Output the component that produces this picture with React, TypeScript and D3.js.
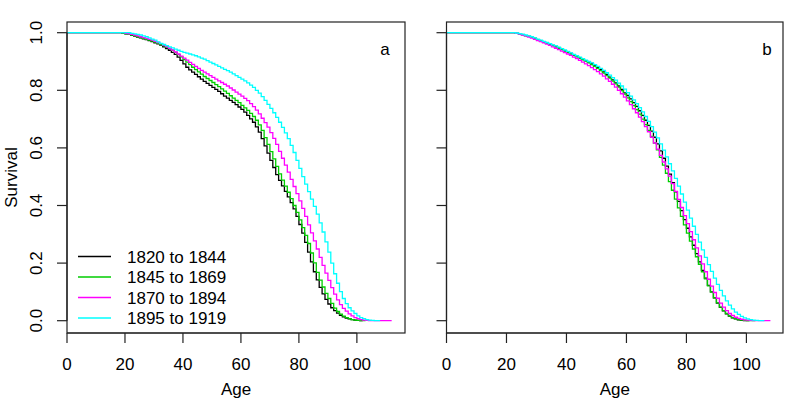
import React from "react";
import * as d3 from "d3";

// ---------- data ----------
const cohorts = ["1820 to 1844", "1845 to 1869", "1870 to 1894", "1895 to 1919"];
const xTicks = [0, 20, 40, 60, 80, 100];
const yTicks = [0, 0.2, 0.4, 0.6, 0.8, 1.0];
const panelLabels = ["a", "b"];

// Panel a: survival by single year of age, starting at startA[i]
const startA = [18, 18, 19, 21];
const lastAgeA = [102, 103, 112, 108];
const survA1820 = [
  1.0, 0.998, 0.996, 0.994, 0.991, 0.988, 0.985, 0.982, 0.979, 0.976, 0.973, 0.969, 0.965, 0.961, 0.957,
  0.951, 0.945, 0.939, 0.932, 0.925, 0.915, 0.904, 0.892, 0.88, 0.871, 0.863, 0.855, 0.847, 0.839, 0.831,
  0.824, 0.817, 0.81, 0.803, 0.796, 0.788, 0.78, 0.773, 0.765, 0.758, 0.75, 0.742, 0.734, 0.724, 0.713,
  0.701, 0.689, 0.673, 0.655, 0.632, 0.607, 0.582, 0.557, 0.532, 0.507, 0.487, 0.468, 0.449, 0.43, 0.41,
  0.388, 0.362, 0.334, 0.304, 0.272, 0.238, 0.204, 0.17, 0.142, 0.116, 0.093, 0.074, 0.058, 0.045, 0.035,
  0.026, 0.019, 0.013, 0.009, 0.006, 0.004, 0.002, 0.001, 0.0,
];
const survA1845 = [
  1.0, 0.998, 0.996, 0.994, 0.992, 0.989, 0.986, 0.983, 0.98, 0.977, 0.974, 0.971, 0.967, 0.963, 0.959,
  0.955, 0.95, 0.945, 0.939, 0.932, 0.924, 0.916, 0.907, 0.898, 0.889, 0.88, 0.872, 0.864, 0.856, 0.848,
  0.841, 0.834, 0.827, 0.82, 0.813, 0.805, 0.797, 0.789, 0.781, 0.773, 0.765, 0.757, 0.748, 0.739, 0.73,
  0.72, 0.709, 0.696, 0.68, 0.661, 0.636, 0.612, 0.587, 0.562, 0.536, 0.51, 0.488, 0.467, 0.446, 0.424,
  0.4, 0.376, 0.35, 0.323, 0.296, 0.268, 0.235, 0.201, 0.168, 0.141, 0.117, 0.095, 0.077, 0.06, 0.044,
  0.032, 0.023, 0.016, 0.011, 0.007, 0.004, 0.002, 0.001, 0.0,
];
const survA1870 = [
  1.0, 0.998, 0.996, 0.994, 0.992, 0.989, 0.986, 0.983, 0.98, 0.977, 0.974, 0.97, 0.966, 0.962, 0.957,
  0.952, 0.946, 0.94, 0.933, 0.926, 0.919, 0.912, 0.905, 0.897, 0.89, 0.883, 0.876, 0.869, 0.863, 0.857,
  0.851, 0.845, 0.839, 0.833, 0.827, 0.821, 0.815, 0.808, 0.801, 0.794, 0.787, 0.78, 0.772, 0.764, 0.754,
  0.743, 0.731, 0.718, 0.703, 0.688, 0.672, 0.653, 0.633, 0.612, 0.588, 0.564, 0.54, 0.516, 0.491, 0.466,
  0.441, 0.416, 0.39, 0.362, 0.333, 0.305, 0.277, 0.249, 0.22, 0.192, 0.165, 0.14, 0.115, 0.092, 0.072,
  0.056, 0.043, 0.033, 0.024, 0.017, 0.011, 0.007, 0.004, 0.002, 0.001, 0.0,
];
const survA1895 = [
  1.0, 0.998, 0.996, 0.994, 0.992, 0.989, 0.986, 0.982, 0.978, 0.974, 0.968, 0.963, 0.959, 0.955, 0.951,
  0.947, 0.943, 0.939, 0.935, 0.932, 0.929, 0.926, 0.923, 0.92, 0.916, 0.912, 0.908, 0.903, 0.898, 0.893,
  0.888, 0.883, 0.878, 0.873, 0.868, 0.863, 0.857, 0.851, 0.845, 0.839, 0.833, 0.826, 0.818, 0.81, 0.8,
  0.79, 0.778, 0.765, 0.751, 0.737, 0.722, 0.706, 0.689, 0.671, 0.652, 0.632, 0.609, 0.584, 0.557, 0.529,
  0.5, 0.474, 0.448, 0.422, 0.397, 0.37, 0.34, 0.308, 0.274, 0.238, 0.2, 0.163, 0.13, 0.101, 0.077,
  0.059, 0.045, 0.034, 0.025, 0.017, 0.011, 0.007, 0.004, 0.002, 0.001, 0.0,
];

// Panel b
const startB = [22, 22, 22, 22];
const lastAgeB = [101, 103, 108, 106];
const survB1820 = [
  1.0, 0.998, 0.996, 0.993, 0.99, 0.987, 0.984, 0.98, 0.976, 0.972, 0.968, 0.964, 0.96, 0.956, 0.952,
  0.948, 0.943, 0.938, 0.933, 0.928, 0.923, 0.918, 0.913, 0.908, 0.903, 0.898, 0.893, 0.887, 0.88, 0.872,
  0.864, 0.855, 0.846, 0.836, 0.826, 0.815, 0.803, 0.791, 0.782, 0.77, 0.757, 0.744, 0.729, 0.713, 0.696,
  0.678, 0.658, 0.637, 0.614, 0.59, 0.564, 0.537, 0.509, 0.479, 0.447, 0.414, 0.382, 0.351, 0.321, 0.291,
  0.262, 0.233, 0.204, 0.175, 0.148, 0.123, 0.1, 0.079, 0.061, 0.046, 0.034, 0.024, 0.016, 0.01, 0.006,
  0.003, 0.001, 0.0,
];
const survB1845 = [
  1.0, 0.998, 0.996, 0.993, 0.99, 0.987, 0.984, 0.98, 0.976, 0.972, 0.968, 0.964, 0.96, 0.955, 0.951,
  0.946, 0.941, 0.936, 0.931, 0.926, 0.921, 0.916, 0.911, 0.906, 0.901, 0.895, 0.889, 0.883, 0.876, 0.868,
  0.86, 0.851, 0.842, 0.832, 0.822, 0.811, 0.799, 0.787, 0.774, 0.761, 0.747, 0.733, 0.717, 0.7, 0.681,
  0.661, 0.64, 0.617, 0.593, 0.567, 0.54, 0.512, 0.483, 0.453, 0.422, 0.392, 0.362, 0.333, 0.304, 0.276,
  0.249, 0.222, 0.196, 0.17, 0.145, 0.121, 0.099, 0.079, 0.062, 0.047, 0.035, 0.025, 0.017, 0.011, 0.007,
  0.004, 0.002, 0.001, 0.0,
];
const survB1870 = [
  1.0, 0.998, 0.995, 0.992, 0.989, 0.985, 0.981, 0.977, 0.973, 0.969, 0.965, 0.96, 0.956, 0.951, 0.946,
  0.941, 0.936, 0.931, 0.926, 0.921, 0.915, 0.91, 0.904, 0.898, 0.892, 0.886, 0.879, 0.872, 0.865, 0.857,
  0.849, 0.84, 0.831, 0.821, 0.811, 0.8, 0.788, 0.776, 0.763, 0.75, 0.736, 0.722, 0.707, 0.691, 0.674,
  0.656, 0.637, 0.617, 0.596, 0.574, 0.551, 0.527, 0.502, 0.476, 0.449, 0.421, 0.393, 0.365, 0.337, 0.309,
  0.281, 0.253, 0.225, 0.197, 0.17, 0.144, 0.12, 0.098, 0.078, 0.061, 0.047, 0.035, 0.025, 0.018, 0.012,
  0.008, 0.005, 0.003, 0.002, 0.001, 0.0,
];
const survB1895 = [
  1.0, 0.999, 0.997, 0.995, 0.992, 0.989, 0.986, 0.982, 0.978, 0.974, 0.97, 0.966, 0.962, 0.958, 0.954,
  0.95, 0.945, 0.94, 0.935, 0.93, 0.925, 0.92, 0.915, 0.91, 0.905, 0.9, 0.895, 0.889, 0.883, 0.876,
  0.869, 0.861, 0.853, 0.844, 0.835, 0.825, 0.815, 0.804, 0.792, 0.78, 0.767, 0.754, 0.74, 0.725, 0.709,
  0.692, 0.674, 0.655, 0.635, 0.614, 0.592, 0.569, 0.545, 0.52, 0.494, 0.467, 0.44, 0.412, 0.384, 0.356,
  0.328, 0.3, 0.273, 0.246, 0.22, 0.195, 0.171, 0.148, 0.126, 0.105, 0.086, 0.069, 0.054, 0.041, 0.03,
  0.022, 0.015, 0.01, 0.006, 0.004, 0.002, 0.001, 0.0,
];

// ---------- styles ----------
const seriesColors = ["#000000", "#00CD00", "#FF00FF", "#00FFFF"];
const FONT = "'Liberation Sans', Arial, Helvetica, sans-serif";
const FS = 17;

const W = 787;
const H = 401;
const yScale = d3.scaleLinear().domain([0, 1]).range([320.7, 32.7]);
const boxTop = 22;
const boxBottom = 333;

type Panel = {
  left: number;
  right: number;
  xMax: number;
  starts: number[];
  lastAges: number[];
  series: number[][];
  label: string;
  showY: boolean;
  showLegend: boolean;
  labelX: number;
};

const panels: Panel[] = [
  {
    left: 67,
    right: 405,
    xMax: 116.6,
    starts: startA,
    lastAges: lastAgeA,
    series: [survA1820, survA1845, survA1870, survA1895],
    label: panelLabels[0],
    showY: true,
    showLegend: true,
    labelX: 385,
  },
  {
    left: 446.5,
    right: 783,
    xMax: 112.2,
    starts: startB,
    lastAges: lastAgeB,
    series: [survB1820, survB1845, survB1870, survB1895],
    label: panelLabels[1],
    showY: false,
    showLegend: false,
    labelX: 767,
  },
];

function PanelView({ p }: { p: Panel }) {
  const x = d3
    .scaleLinear()
    .domain([0, p.xMax])
    .range([p.left, p.left + ((p.right - p.left) * p.xMax) / p.xMax]);
  const line = d3
    .line<[number, number]>()
    .x((d) => x(d[0]))
    .y((d) => yScale(d[1]))
    .curve(d3.curveStepAfter);

  const paths = p.series.map((vals, i) => {
    const pts: [number, number][] = [[0, 1]];
    vals.forEach((v, j) => pts.push([p.starts[i] + j, v]));
    pts.push([p.lastAges[i], vals[vals.length - 1]]);
    return line(pts) || "";
  });

  const cx = (p.left + p.right) / 2;
  return (
    <g>
      {paths.map((d, i) => (
        <path key={i} d={d} fill="none" stroke={seriesColors[i]} strokeWidth={1.3} />
      ))}
      <rect
        x={p.left}
        y={boxTop}
        width={p.right - p.left}
        height={boxBottom - boxTop}
        fill="none"
        stroke="#222"
        strokeWidth={1.2}
      />
      {/* x axis */}
      <line x1={x(xTicks[0])} x2={x(xTicks[xTicks.length - 1])} y1={boxBottom} y2={boxBottom} stroke="#222" strokeWidth={1.2} />
      {xTicks.map((t) => (
        <g key={t}>
          <line x1={x(t)} x2={x(t)} y1={boxBottom} y2={boxBottom + 10} stroke="#222" strokeWidth={1.2} />
          <text x={x(t)} y={370} textAnchor="middle" fontSize={FS} fontFamily={FONT} fill="#000">
            {t}
          </text>
        </g>
      ))}
      <text x={cx} y={395} textAnchor="middle" fontSize={FS} fontFamily={FONT} fill="#000">
        Age
      </text>
      {/* y axis */}
      <line x1={p.left} x2={p.left} y1={yScale(0)} y2={yScale(1)} stroke="#222" strokeWidth={1.2} />
      {yTicks.map((t) => (
        <g key={t}>
          <line x1={p.left - 10} x2={p.left} y1={yScale(t)} y2={yScale(t)} stroke="#222" strokeWidth={1.2} />
          {p.showY && (
            <text
              transform={`translate(${p.left - 25.5},${yScale(t)}) rotate(-90)`}
              textAnchor="middle"
              fontSize={FS}
              fontFamily={FONT}
              fill="#000"
            >
              {t.toFixed(1)}
            </text>
          )}
        </g>
      ))}
      {p.showY && (
        <text
          transform={`translate(16.5,${(boxTop + boxBottom) / 2}) rotate(-90)`}
          textAnchor="middle"
          fontSize={FS}
          fontFamily={FONT}
          fill="#000"
        >
          Survival
        </text>
      )}
      <text x={p.labelX} y={55} textAnchor="middle" fontSize={FS} fontFamily={FONT} fill="#000">
        {p.label}
      </text>
      {p.showLegend &&
        cohorts.map((c, i) => {
          const yy = 256.5 + i * 20.5;
          return (
            <g key={c}>
              <line x1={78} x2={111} y1={yy} y2={yy} stroke={seriesColors[i]} strokeWidth={1.3} />
              <text x={127} y={yy + 6} fontSize={FS} fontFamily={FONT} fill="#000">
                {c}
              </text>
            </g>
          );
        })}
    </g>
  );
}

export default function App() {
  return (
    <svg
      width={W}
      height={H}
      style={{ position: "absolute", left: 0, top: 0, background: "#fff" }}
    >
      <rect x={0} y={0} width={W} height={H} fill="#fff" />
      {panels.map((p, i) => (
        <PanelView key={i} p={p} />
      ))}
    </svg>
  );
}
